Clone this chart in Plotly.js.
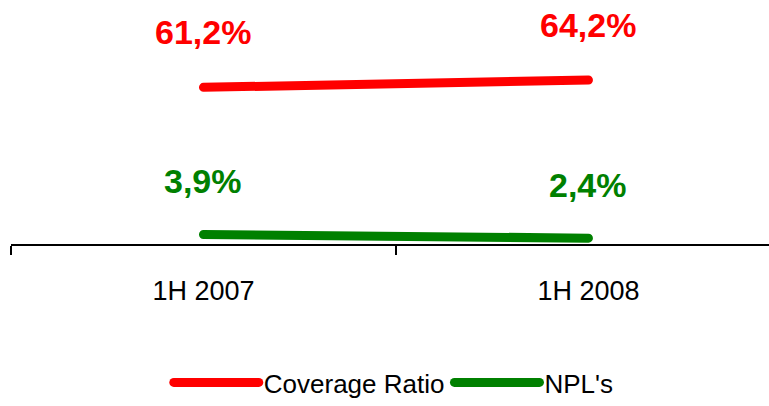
<!DOCTYPE html>
<html>
<head>
<meta charset="utf-8">
<script src="https://cdn.plot.ly/plotly-3.0.1.min.js"></script>
<style>
html,body{margin:0;padding:0;background:#fff;}
#chart{width:769px;height:406px;}
path.js-line{stroke-linecap:round !important;}
</style>
</head>
<body>
<div id="chart"></div>
<script>
var categories = ["1H 2007", "1H 2008"];
var coverageRatio = [61.2, 64.2];
var npls = [3.9, 2.4];
var coverageLabels = ["61,2%", "64,2%"];
var nplLabels = ["3,9%", "2,4%"];
var seriesNames = ["Coverage Ratio", "NPL's"];

var RED = "#FF0000", GREEN = "#008000";

var traces = [
  {x: categories, y: coverageRatio, name: seriesNames[0], type: "scatter", mode: "lines",
   yaxis: "y2", line: {color: RED, width: 9}, cliponaxis: false, hoverinfo: "skip"},
  {x: categories, y: npls, name: seriesNames[1], type: "scatter", mode: "lines",
   yaxis: "y", line: {color: GREEN, width: 9}, cliponaxis: false, hoverinfo: "skip"}
];

var annotations = [];
categories.forEach(function(c, i){
  annotations.push({x: c, y: coverageRatio[i], xref: "x", yref: "y2", text: coverageLabels[i],
    showarrow: false, yshift: 55, font: {family: "Liberation Sans, Arial, sans-serif", size: 34, color: RED, weight: "bold"}});
  annotations.push({x: c, y: npls[i], xref: "x", yref: "y", text: nplLabels[i],
    showarrow: false, yshift: 53, font: {family: "Liberation Sans, Arial, sans-serif", size: 34, color: GREEN, weight: "bold"}});
});

var layout = {
  width: 769, height: 406,
  margin: {l: 11, r: 0, t: 0, b: 156, pad: 0},
  paper_bgcolor: "#fff", plot_bgcolor: "#fff",
  font: {family: "Liberation Sans, Arial, sans-serif", color: "#000"},
  showlegend: true,
  legend: {orientation: "h", x: 0.505, xanchor: "center", y: -0.568, yanchor: "middle",
    font: {size: 26, color: "#000"}, itemwidth: 85, traceorder: "normal", bgcolor: "rgba(0,0,0,0)"},
  xaxis: {type: "category", range: [-0.5, 1.469], showgrid: false, zeroline: false,
    showline: true, linecolor: "#000", linewidth: 2,
    ticks: "outside", tickson: "boundaries", ticklen: 9, tickwidth: 2, tickcolor: "#000",
    ticklabelstandoff: 22, tickfont: {size: 27, color: "#000"}, fixedrange: true},
  yaxis: {range: [0, 100], visible: false, showgrid: false, zeroline: false, fixedrange: true},
  yaxis2: {range: [-3, 97], overlaying: "y", side: "right", visible: false, showgrid: false, zeroline: false, fixedrange: true},
  annotations: annotations
};

Plotly.newPlot("chart", traces, layout, {displayModeBar: false, staticPlot: true});
</script>
</body>
</html>
